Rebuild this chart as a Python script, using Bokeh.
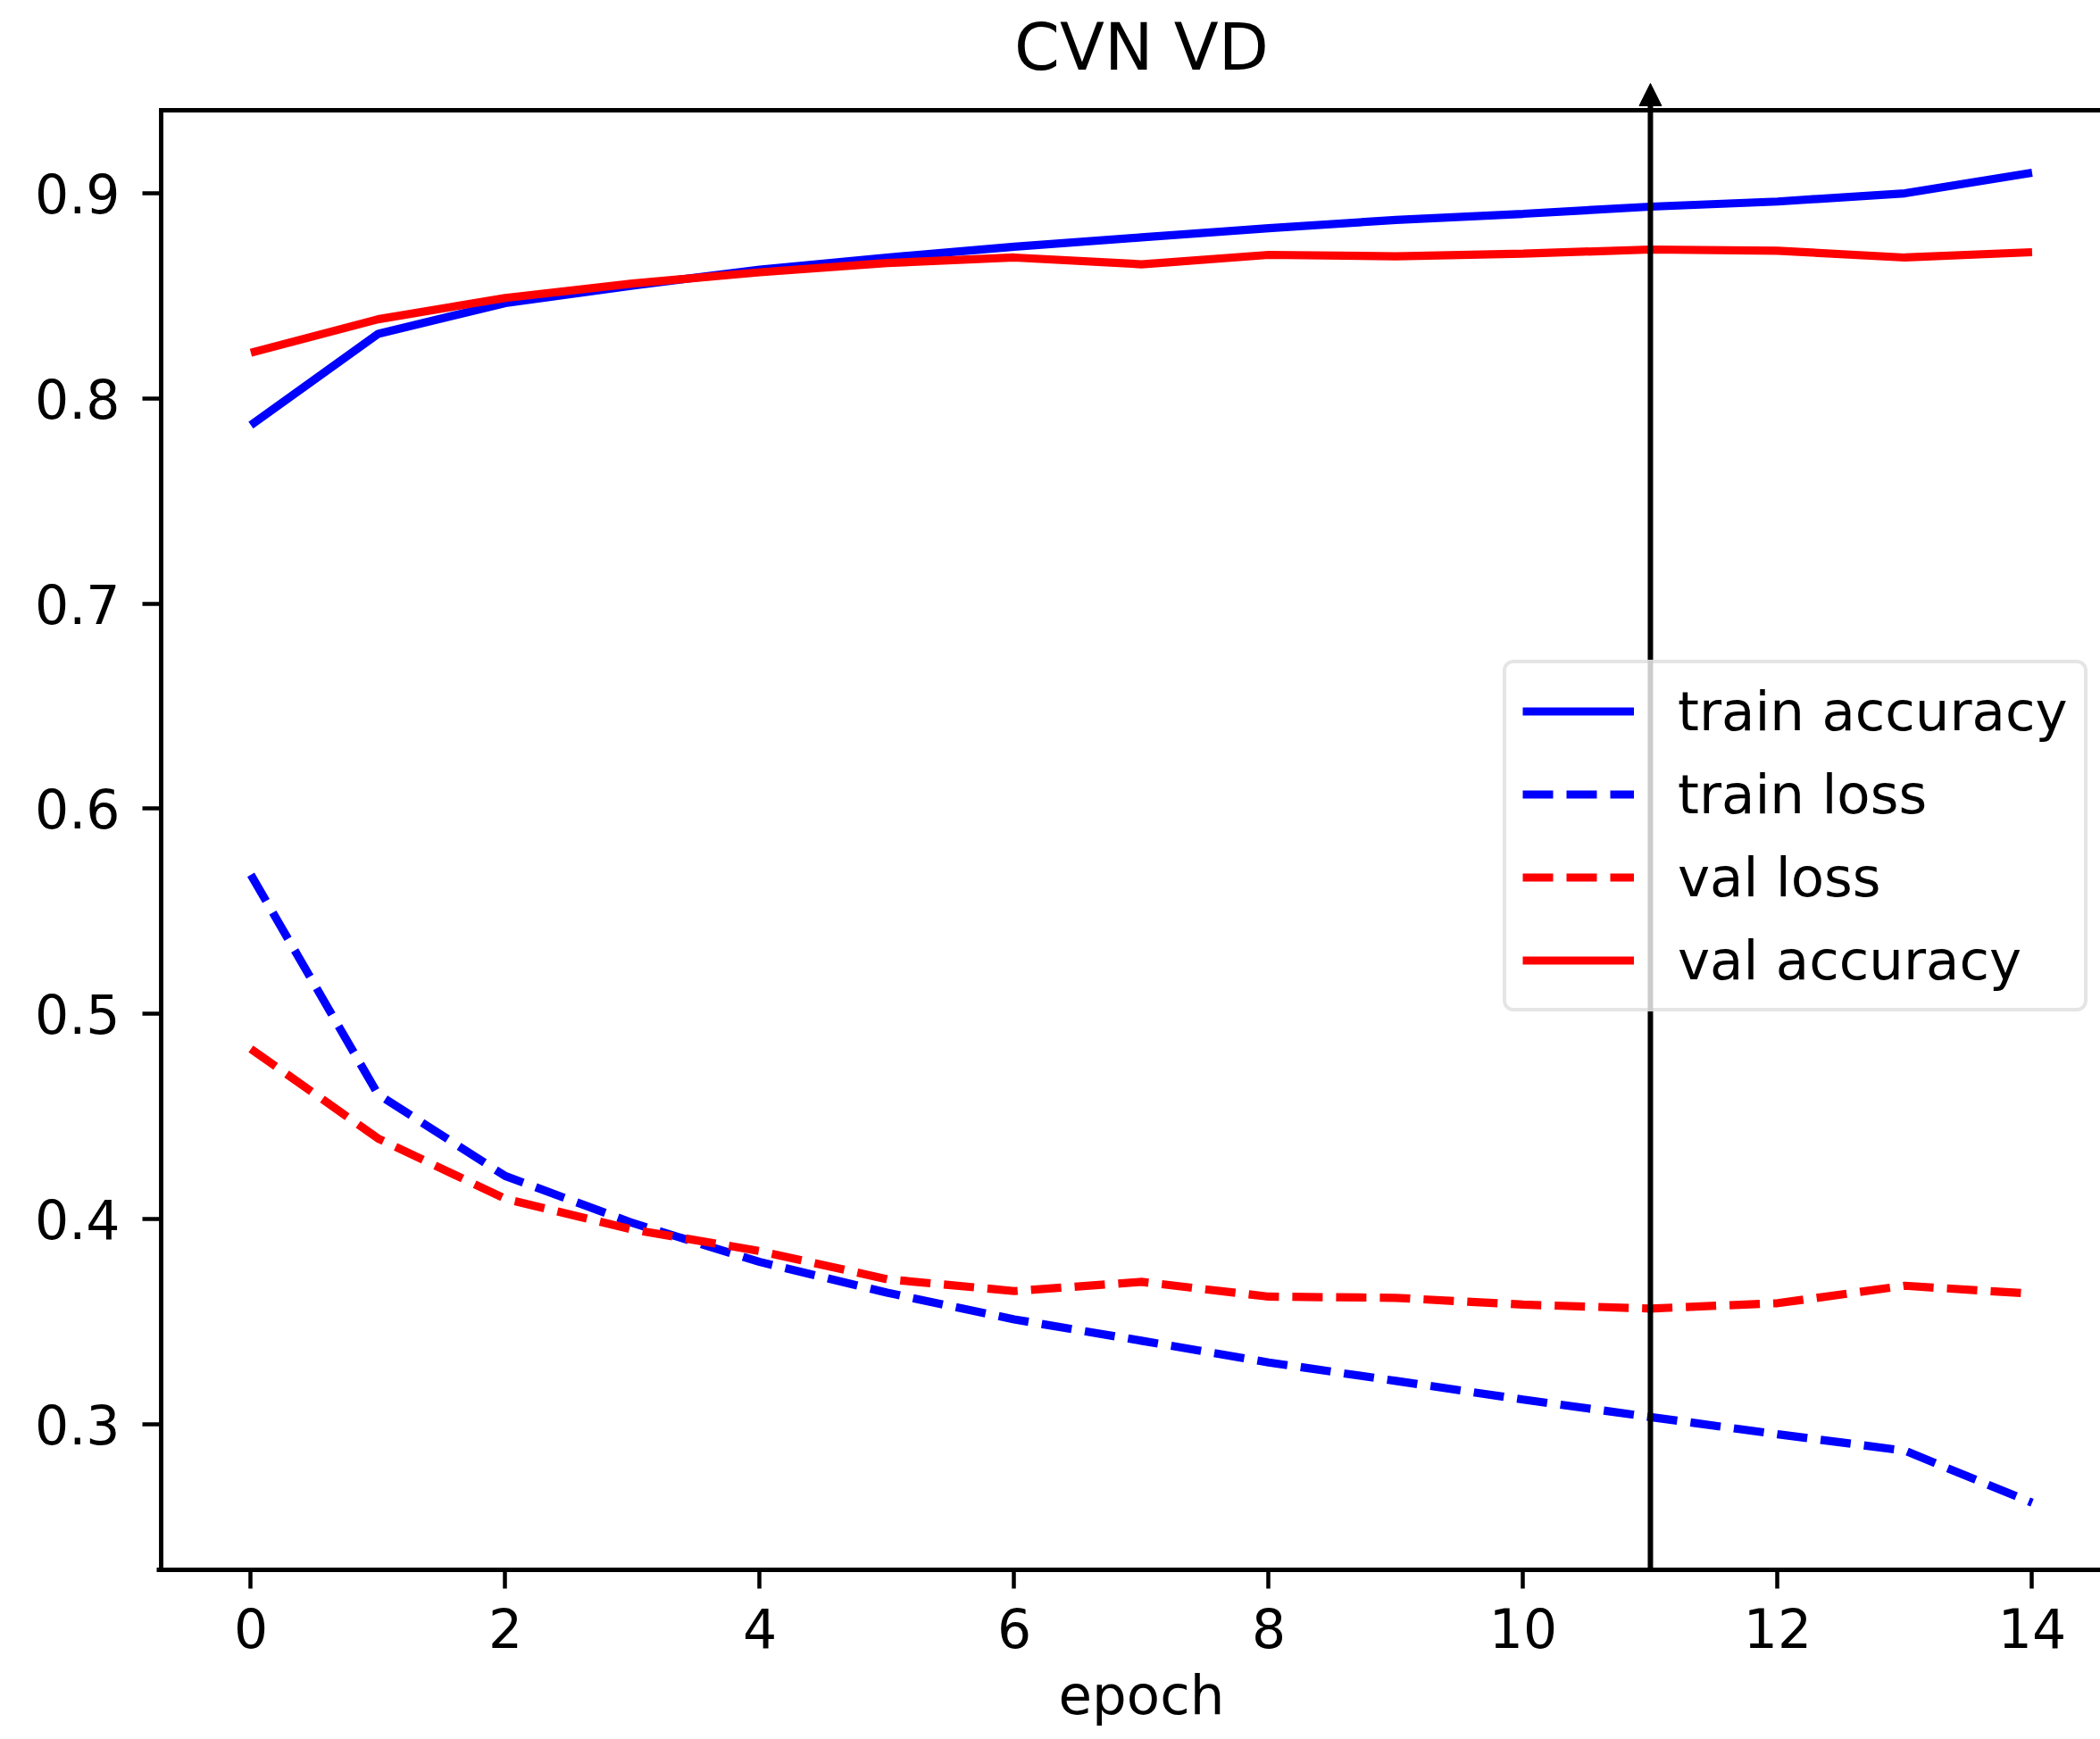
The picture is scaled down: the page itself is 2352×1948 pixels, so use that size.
from bokeh.plotting import figure
from bokeh.models import (Range1d, FixedTicker, Legend, LegendItem,
                          Label, Arrow, NormalHead, Title)
from bokeh.embed import file_html
from bokeh.resources import INLINE

# ---- data ----
epochs = list(range(15))
train_accuracy = [0.787, 0.8315, 0.8465, 0.855, 0.8628, 0.8687, 0.874, 0.8785,
                  0.883, 0.887, 0.890, 0.8935, 0.896, 0.900, 0.910]
train_loss = [0.5678, 0.4607, 0.4209, 0.398, 0.379, 0.364, 0.351, 0.3406,
              0.330, 0.321, 0.3119, 0.3034, 0.295, 0.287, 0.2616]
val_loss = [0.4829, 0.4392, 0.4098, 0.3948, 0.3843, 0.3706, 0.3648, 0.3693,
            0.3621, 0.3615, 0.3582, 0.3563, 0.3589, 0.3674, 0.3635]
val_accuracy = [0.8223, 0.8386, 0.849, 0.856, 0.8615, 0.866, 0.8687, 0.8654,
                0.870, 0.8693, 0.8706, 0.8726, 0.872, 0.8687, 0.8713]
marker_epoch = 11
x_ticks = [0, 2, 4, 6, 8, 10, 12, 14]
y_ticks = [0.3, 0.4, 0.5, 0.6, 0.7, 0.8, 0.9]
title_text = "CVN VD"
x_label = "epoch"

FONT = "DejaVu Sans"
W, H = 2352, 1948
LEFT, BOTTOM = 175, 190
# axes box (matplotlib-like) limits
ax_x_lo, ax_x_hi = -0.705, 14.705
ax_y_lo, ax_y_hi = 0.2289, 0.9405
SPINE_TOP_PX = 123          # pixel row of the top spine
SPINE_LEFT_PX = 180         # pixel column of the left spine
frame_h = H - BOTTOM
px_y = (ax_y_hi - ax_y_lo) / (frame_h - SPINE_TOP_PX)
px_x = 1.0 / 142.5
x_start = ax_x_lo - (SPINE_LEFT_PX - LEFT) * px_x
x_end = x_start + (W - LEFT) * px_x
y_end = ax_y_hi + SPINE_TOP_PX * px_y

p = figure(width=W, height=H, output_backend="svg", toolbar_location=None,
           x_range=Range1d(x_start, x_end), y_range=Range1d(ax_y_lo, y_end),
           min_border_left=LEFT, min_border_top=0, min_border_bottom=BOTTOM,
           min_border_right=0)
p.outline_line_color = None
p.grid.visible = False
p.background_fill_color = "white"
p.border_fill_color = "white"

for ax in (p.xaxis[0], p.yaxis[0]):
    ax.axis_line_width = 4.9
    ax.major_tick_line_width = 4.5
    ax.minor_tick_line_color = None
    ax.major_label_text_font = FONT
    ax.major_label_text_font_size = "60px"
    ax.major_label_text_color = "#000000"
p.xaxis[0].ticker = FixedTicker(ticks=x_ticks)
p.yaxis[0].ticker = FixedTicker(ticks=y_ticks)
p.xaxis[0].major_tick_out = 21
p.xaxis[0].major_tick_in = 0
p.xaxis[0].major_label_standoff = 21
p.yaxis[0].axis_line_color = None
p.yaxis[0].major_tick_out = 21 - (SPINE_LEFT_PX - LEFT)
p.yaxis[0].major_tick_in = SPINE_LEFT_PX - LEFT
p.yaxis[0].major_label_standoff = 25

# spines: left and top
p.line([ax_x_lo, ax_x_lo], [ax_y_lo, ax_y_hi], color="black", line_width=4.9)
p.line([ax_x_lo, x_end], [ax_y_hi, ax_y_hi], color="black", line_width=4.9, line_cap="square")

lw = 9.2
r_ta = p.line(epochs, train_accuracy, color="#0000ff", line_width=lw)
r_tl = p.line(epochs, train_loss, color="#0000ff", line_width=lw, line_dash="34 15")
r_vl = p.line(epochs, val_loss, color="#ff0000", line_width=lw, line_dash="34 15")
r_va = p.line(epochs, val_accuracy, color="#ff0000", line_width=lw)

arrow_top = ax_y_hi + 30 * px_y
p.add_layout(Arrow(x_start=marker_epoch, y_start=ax_y_lo, x_end=marker_epoch, y_end=arrow_top,
                   line_color="black", line_width=6,
                   end=NormalHead(size=25, fill_color="black", line_color="black", line_width=1)))

legend = Legend(items=[
    LegendItem(label="train accuracy", renderers=[r_ta]),
    LegendItem(label="train loss", renderers=[r_tl]),
    LegendItem(label="val loss", renderers=[r_vl]),
    LegendItem(label="val accuracy", renderers=[r_va]),
], location=(1683 - LEFT, frame_h - 1133))
legend.label_text_font = FONT
legend.label_text_font_size = "61px"
legend.label_text_color = "#000000"
legend.glyph_width = 125
legend.glyph_height = 71
legend.label_height = 71
legend.label_standoff = 49
legend.spacing = 22
legend.padding = 18
legend.margin = 0
legend.border_line_color = "#cccccc"
legend.border_line_width = 4
legend.border_radius = 12
legend.background_fill_color = "white"
legend.background_fill_alpha = 0.8
p.add_layout(legend, "center")

center_x = (ax_x_lo + ax_x_hi) / 2
p.add_layout(Label(x=center_x, y=ax_y_hi + (SPINE_TOP_PX - 52) * px_y, text=title_text,
                   text_font=FONT, text_font_size="73px", text_color="#000000",
                   text_align="center", text_baseline="alphabetic"))

epoch_w = 3.046 * 61
p.add_layout(Title(text=x_label, align="left",
                   offset=(center_x - x_start) / px_x - epoch_w / 2,
                   text_font=FONT, text_font_size="61px", text_font_style="normal",
                   text_color="#000000", standoff=24), "below")

open("out.html", "w").write(file_html(p, INLINE))
